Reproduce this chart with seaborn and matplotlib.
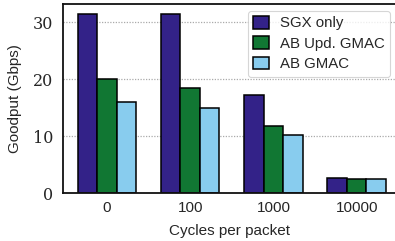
import numpy as np
import pandas as pd
import matplotlib
matplotlib.use("Agg")
import matplotlib.pyplot as plt
import seaborn as sns

sns.set_style("white")
plt.rcParams['font.family'] = ['Liberation Sans', 'DejaVu Sans']

# data
cycles = ["0", "100", "1000", "10000"]
sgx_only = [31.5, 31.5, 17.3, 2.7]
ab_upd_gmac = [20.0, 18.5, 11.7, 2.5]
ab_gmac = [16.0, 15.0, 10.2, 2.4]
series = ["SGX only", "AB Upd. GMAC", "AB GMAC"]
colors = ["#332288", "#117733", "#88CCEE"]

df = pd.DataFrame({
    "cycles": cycles * 3,
    "goodput": sgx_only + ab_upd_gmac + ab_gmac,
    "series": [s for s in series for _ in cycles],
})

fig = plt.figure(figsize=(3.95, 2.41), dpi=100)
ax = fig.add_axes([0.159, 0.199, 0.845, 0.784])

sns.barplot(data=df, x="cycles", y="goodput", hue="series", order=cycles,
            hue_order=series, palette=colors, width=0.7, edgecolor="black",
            linewidth=1.1, saturation=1, ax=ax)

ax.set_ylim(0, 33.2)
ax.set_xlim(-0.53, 3.48)
ax.set_yticks([0, 10, 20, 30])
ax.yaxis.grid(True, linestyle=(0, (1, 1.2)), color="#aaaaaa", linewidth=0.9)
ax.set_axisbelow(True)
for lab in ax.get_yticklabels():
    lab.set_family("DejaVu Serif")
    lab.set_fontsize(11.5)
for lab in ax.get_xticklabels():
    lab.set_fontsize(11)
ax.tick_params(axis="y", length=0, pad=7)
ax.tick_params(axis="x", length=0, pad=6)
ax.set_xlabel("Cycles per packet", fontsize=11, labelpad=6)
ax.set_ylabel("Goodput (Gbps)", fontsize=11, labelpad=8)
for sp in ax.spines.values():
    sp.set_linewidth(1.3)
    sp.set_color("#111111")

leg = ax.legend(loc="upper right", fontsize=10.8, frameon=True, fancybox=True,
                handlelength=1.1, handleheight=0.9, borderaxespad=0.45,
                labelspacing=0.4, handletextpad=0.7, borderpad=0.35)
leg.get_frame().set_edgecolor("#cccccc")
leg.get_frame().set_linewidth(0.8)

fig.savefig("out.png", dpi=100)
